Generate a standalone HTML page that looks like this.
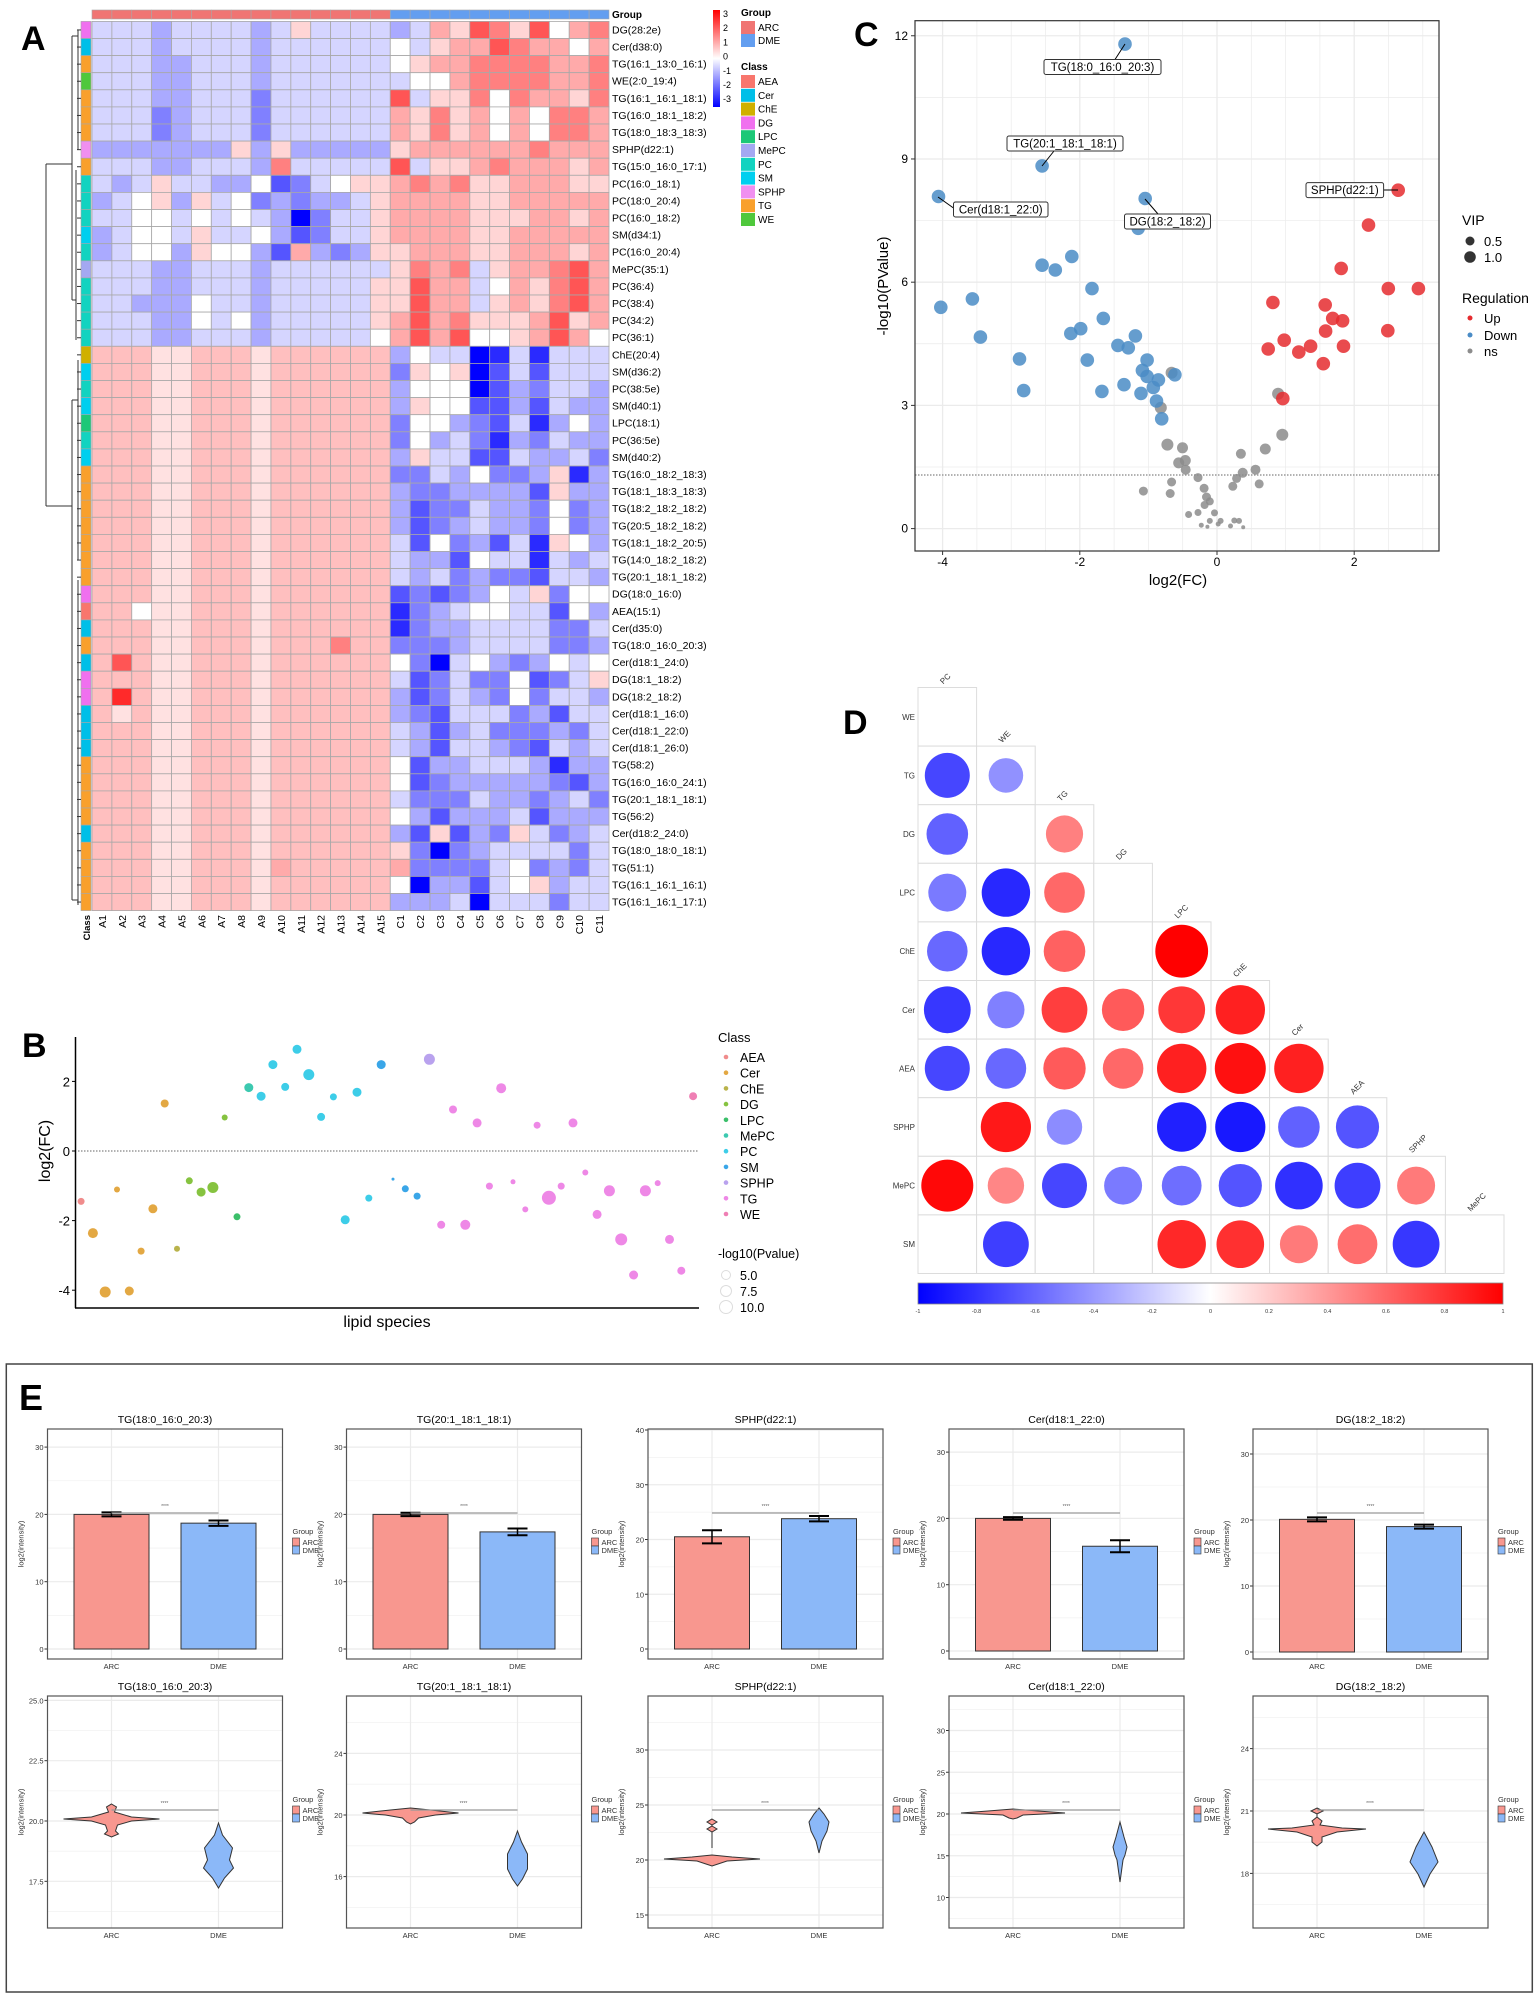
<!DOCTYPE html>
<html><head><meta charset="utf-8"><style>
html,body{margin:0;padding:0;background:#fff;}
svg{display:block;font-family:"Liberation Sans",sans-serif;}
</style></head><body>
<svg id="s" width="1535" height="2000" viewBox="0 0 1535 2000" xmlns="http://www.w3.org/2000/svg"></svg>
<script>
(function(){
var o=[];
function T(x,y,t,a){o.push('<text x="'+x+'" y="'+y+'" '+(a||'')+'>'+t+'</text>');}
function R(x,y,w,h,a){o.push('<rect x="'+x+'" y="'+y+'" width="'+w+'" height="'+h+'" '+a+'/>');}
function L(x1,y1,x2,y2,a){o.push('<line x1="'+x1+'" y1="'+y1+'" x2="'+x2+'" y2="'+y2+'" '+a+'/>');}
function C(x,y,r,a){o.push('<circle cx="'+x+'" cy="'+y+'" r="'+r+'" '+a+'/>');}
function rgb(v){var t=Math.min(1,Math.abs(v)/3);var k=Math.round(255*(1-t));return v<0?'rgb('+k+','+k+',255)':'rgb(255,'+k+','+k+')';}
// ===== Panel A =====
T(21,50,'A','style="font-size:34px;font-weight:bold;"');
var names=["DG(28:2e)","Cer(d38:0)","TG(16:1_13:0_16:1)","WE(2:0_19:4)","TG(16:1_16:1_18:1)","TG(16:0_18:1_18:2)","TG(18:0_18:3_18:3)","SPHP(d22:1)","TG(15:0_16:0_17:1)","PC(16:0_18:1)","PC(18:0_20:4)","PC(16:0_18:2)","SM(d34:1)","PC(16:0_20:4)","MePC(35:1)","PC(36:4)","PC(38:4)","PC(34:2)","PC(36:1)","ChE(20:4)","SM(d36:2)","PC(38:5e)","SM(d40:1)","LPC(18:1)","PC(36:5e)","SM(d40:2)","TG(16:0_18:2_18:3)","TG(18:1_18:3_18:3)","TG(18:2_18:2_18:2)","TG(20:5_18:2_18:2)","TG(18:1_18:2_20:5)","TG(14:0_18:2_18:2)","TG(20:1_18:1_18:2)","DG(18:0_16:0)","AEA(15:1)","Cer(d35:0)","TG(18:0_16:0_20:3)","Cer(d18:1_24:0)","DG(18:1_18:2)","DG(18:2_18:2)","Cer(d18:1_16:0)","Cer(d18:1_22:0)","Cer(d18:1_26:0)","TG(58:2)","TG(16:0_16:0_24:1)","TG(20:1_18:1_18:1)","TG(56:2)","Cer(d18:2_24:0)","TG(18:0_18:0_18:1)","TG(51:1)","TG(16:1_16:1_16:1)","TG(16:1_16:1_17:1)"];
var tp=[["UUUVUUUUVUaUUUU","VUbadcadobc"],["UUUVUUUUVUUUUUU","oUabbdcbbob"],["UUUVVUUUVUUUUUU","oabbccccbbc"],["UUUVVUUUVUUUUUU","Uoobccccbbc"],["UUUVVUUUWUUUUUU","dUaacocbbac"],["UUUWVUUUWUUUUUU","bacaboboccb"],["UUUWVUUUWUUUUUU","bacaboboccb"],["VVVVVVVaVaVVVVV","abbbbbbcbbb"],["UUUVVUUUVcUUUUU","dUaabcbbbab"],["UVUaUUVVoXWUoaa","bcbcaabbbaa"],["VUoaVaUoWVWVVUa","bbbbaabbbbb"],["UUooUoUoUVZWUUa","bbbbaaabbab"],["VUooUaUUoVXWUUa","bbbbaabbbbb"],["VUooVaooVXbVWVa","abbbaabbbab"],["UUUVVUUUVUUUUUU","acbcUabbcdb"],["UUUVVUUUVUUUUUa","adbbUobacdb"],["UUVVVoUUVUUUUUa","adbbUabacdb"],["UUUVVoUoVUUUUUa","bdbcaaabdab"],["UUUVVUUUVUUUUUo","bdbdooabdbo"]];
var bot=["VoUUZYUYUUU","WaoaZXUXUUU","VoooZXVWUUV","VaooXXVXUVV","WooVWXUYVoV","WoVUWYVWUVV","VaUUXXUVVUW","WWUVoWWVaYV","VWWVVVVXaVV","VXWWUVVWoWV","VXWVUVVWoWV","UXoWVXUYaoV","UVVXoUUYUVU","UVUWVWWXUUV","XWXWVoUaWoo","YWVUooUUXoV","YWVVUUUUWWU","WWWVUUUUWWV","oWZUoVWVoUo","UXWUWWoXWUa","VXWUVWoWUUV","VWXUUUWVXUU","UVXVUWWWVWU","UVXUUVWXUVU","oXVVUUUVYVV","oXWVVVVVWXV","UWWWUVVWVUW","oVXVVVUXVVV","VXaXVWaUWVU","aWZWVUUUUWU","bWWWWUoWVWU","oZVVXUoaVUU","VVVUZUUUWUU"];
var cmap={Z:-3,Y:-2.5,X:-2,W:-1.5,V:-1,U:-0.5,o:0,h:0.35,a:0.5,i:0.75,b:1,c:1.5,d:2,e:2.5,f:3};
var rows=[];
for(var i=0;i<19;i++)rows.push(tp[i][0]+tp[i][1]);
for(var i=0;i<33;i++){var b="iiihhiiihiiiiii".split('');var r=i+19;
 if(r==34)b[2]='o'; if(r==36)b[12]='c'; if(r==37)b[1]='d'; if(r==39)b[1]='e'; if(r==40)b[1]='h'; if(r==49)b[9]='b';
 rows.push(b.join('')+bot[i]);}
var hx=92,hy=21.4,cw=(609-92)/26,rh=17.1;
var ccol={AEA:"#f8766d",Cer:"#00bfe8",ChE:"#d0b000",DG:"#f070ef",LPC:"#1cc877",MePC:"#a4a8f2",PC:"#12d3c0",SM:"#00cfef",SPHP:"#f08ff0",TG:"#f9a02c",WE:"#4fc83c"};
for(var r=0;r<52;r++){
 for(var c=0;c<26;c++){var ch=rows[r].charAt(c);var vv=(ch in cmap)?cmap[ch]:0;R((hx+c*cw).toFixed(2),(hy+r*rh).toFixed(2),cw.toFixed(2),rh.toFixed(2),'fill="'+rgb(vv)+'" stroke="#a8a8a8" stroke-width="0.8"');}
 var cl=names[r].split('(')[0];
 R(81,(hy+r*rh).toFixed(2),10,rh.toFixed(2),'fill="'+ccol[cl]+'" stroke="#a8a8a8" stroke-width="0.6"');
 T(612,(hy+r*rh+12).toFixed(1),names[r],'style="font-size:10.5px"');
}
for(var c=0;c<26;c++){R((hx+c*cw).toFixed(2),10,cw.toFixed(2),9,'fill="'+(c<15?'#f07573':'#639ef0')+'" stroke="#a8a8a8" stroke-width="0.6"');
 var lb=c<15?'A'+(c+1):'C'+(c-14);
 T(0,0,lb,'transform="translate('+(hx+c*cw+cw/2+4).toFixed(1)+',915) rotate(-90)" text-anchor="end" style="font-size:10.5px"');}
T(0,0,'Class','transform="translate(90,915) rotate(-90)" text-anchor="end" style="font-size:9.5px;font-weight:bold"');
T(612,18,'Group','style="font-size:10px;font-weight:bold"');
var dg='stroke="#333" stroke-width="1" fill="none"';
L(46,164,46,506,dg);L(46,164,72,164,dg);L(46,506,72,506,dg);
L(72,36,72,300,dg);L(72,36,78,36,dg);L(72,300,76,300,dg);L(76,200,76,330,dg);
L(72,400,72,900,dg);L(72,400,78,400,dg);L(72,900,78,900,dg);
for(var r=0;r<52;r++){var y=hy+r*rh+rh/2;L(77,y,81,y,dg);}
L(78,30,78,150,dg);L(76,170,76,340,dg);L(78,360,78,560,dg);L(78,580,78,905,dg);
o.push('<defs><linearGradient id="hg" x1="0" y1="0" x2="0" y2="1"><stop offset="0" stop-color="#f00"/><stop offset="0.5" stop-color="#fff"/><stop offset="1" stop-color="#00f"/></linearGradient><linearGradient id="dgr" x1="0" y1="0" x2="1" y2="0"><stop offset="0" stop-color="#00f"/><stop offset="0.5" stop-color="#fff"/><stop offset="1" stop-color="#f00"/></linearGradient></defs>');
R(713,10,7,97,'fill="url(#hg)"');
var tk=['3','2','1','0','-1','-2','-3'];for(var i=0;i<7;i++)T(723,(17+i*14.2).toFixed(1),tk[i],'style="font-size:9px"');
T(741,16,'Group','style="font-size:10px;font-weight:bold"');
R(741,21,14,13,'fill="#f07573"');T(758,31,'ARC','style="font-size:10px"');
R(741,34,14,13,'fill="#639ef0"');T(758,44,'DME','style="font-size:10px"');
T(741,70,'Class','style="font-size:10px;font-weight:bold"');
var cls=["AEA","Cer","ChE","DG","LPC","MePC","PC","SM","SPHP","TG","WE"];
for(var i=0;i<11;i++){R(741,75+i*13.8,14,13,'fill="'+ccol[cls[i]]+'"');T(758,85+i*13.8,cls[i],'style="font-size:10px"');}
// ===== Panel B =====
T(22,1057,'B','style="font-size:34px;font-weight:bold"');
L(75.5,1037,75.5,1308,'stroke="#000" stroke-width="1.5"');L(75,1308,699,1308,'stroke="#000" stroke-width="1.5"');
var byf=function(v){return 1151-v*34.8;};
[2,0,-2,-4].forEach(function(v){T(70,byf(v)+5,v,'text-anchor="end" style="font-size:13px"');L(72,byf(v),75,byf(v),'stroke="#000"');});
L(78,1151,699,1151,'stroke="#999" stroke-width="1.5" stroke-dasharray="1.5,1.5"');
T(0,0,'log2(FC)','transform="translate(50,1151) rotate(-90)" text-anchor="middle" style="font-size:16px"');
T(387,1327,'lipid species','text-anchor="middle" style="font-size:16px"');
var bc={AEA:"#f08c8c",Cer:"#e3a843",ChE:"#b9b34b",DG:"#86c340",LPC:"#3bbf6a",MePC:"#3cc9b0",PC:"#3dcde8",SM:"#3aa6e8",SPHP:"#b9a2ee",TG:"#ee88e6",WE:"#ef7fb4"};
var bp=[["AEA",158,665,7],["Cer",228,629,6],["Cer",298,687,9],["Cer",181,760,10],["Cer",275,814,7],["Cer",205,937,11],["Cer",252,934,9],["Cer",321,371,8],["ChE",345,807,6],["DG",369,603,7],["DG",392,637,9],["DG",415,623,11],["DG",438,413,6],["LPC",462,711,7],["MePC",485,323,9],["PC",509,349,9],["PC",532,254,9],["PC",556,321,8],["PC",579,208,9],["PC",602,284,11],["PC",626,411,8],["PC",650,351,7],["PC",673,720,9],["PC",696,337,9],["PC",719,655,7],["SM",743,254,9],["SM",766,598,3],["SM",790,627,7],["SM",813,649,7],["SPHP",837,238,11],["TG",860,735,8],["TG",883,389,8],["TG",907,735,10],["TG",930,429,9],["TG",954,619,7],["TG",977,325,10],["TG",1000,606,5],["TG",1024,689,6],["TG",1047,436,7],["TG",1070,654,14],["TG",1094,619,7],["TG",1117,429,9],["TG",1141,578,6],["TG",1164,704,9],["TG",1188,633,11],["TG",1211,779,12],["TG",1235,886,9],["TG",1258,633,11],["TG",1282,610,6],["TG",1305,779,9],["TG",1328,873,8],["WE",1351,349,8]];
bp.forEach(function(p){C((p[1]*0.513).toFixed(1),(980+p[2]*0.333).toFixed(1),(p[3]*0.5).toFixed(1),'fill="'+bc[p[0]]+'"');});
T(718,1042,'Class','style="font-size:13px"');
for(var i=0;i<11;i++){C(726,1057+i*15.7,2.3,'fill="'+bc[cls[i]]+'"');T(740,1062+i*15.7,cls[i],'style="font-size:12.5px"');}
T(718,1258,'-log10(Pvalue)','style="font-size:12.5px"');
[['5.0',1275,4.5],['7.5',1291,5.5],['10.0',1307,6.5]].forEach(function(p){C(726,p[1],p[2],'fill="none" stroke="#ddd"');T(740,p[1]+5,p[0],'style="font-size:12.5px"');});
// ===== Panel C =====
T(854,46,'C','style="font-size:34px;font-weight:bold"');
var cx=function(v){return 1217+v*68.6;},cy=function(v){return 528.6-v*41.07;};
for(var v=-4.5;v<=3.5;v+=0.5){var x=cx(v);if(x<915||x>1439)continue;L(x,21,x,551,'stroke="#ebebeb" stroke-width="'+(v%2==0?1.3:0.7)+'"');}
for(var v=-1.5;v<=13.5;v+=1.5){var y=cy(v);if(y<21||y>551)continue;L(915,y,1439,y,'stroke="#ebebeb" stroke-width="'+(v%3==0?1.3:0.7)+'"');}
L(915,475,1439,475,'stroke="#999" stroke-width="1.5" stroke-dasharray="1.5,1.5"');
function pc(px,py,r,col){C((800+px*0.471).toFixed(1),(py*0.397).toFixed(1),r,'fill="'+col+'" fill-opacity="0.85"');}
var gray=[[789,939,6],[766,1027,6],[1015,992,6],[1024,1095,6],[780,1120,6],[812,1128,5.5],[936,1143,5],[988,1131,5.5],[818,1160,5.5],[804,1166,5.5],[819,1183,5],[967,1183,5],[940,1191,5],[845,1203,4.5],[927,1205,4.5],[789,1214,4.5],[975,1219,4.5],[919,1225,4.5],[858,1230,4.5],[729,1237,4.5],[786,1243,4.5],[863,1252,4.5],[870,1263,4],[859,1272,4],[825,1296,3.5],[880,1292,3.5],[845,1291,3.5],[922,1311,3],[932,1312,3],[870,1312,3],[893,1312,3],[852,1323,2.5],[888,1320,2.5],[914,1325,2.5],[941,1328,2],[865,1327,2]];
gray.forEach(function(p){pc(p[0],p[1],p[2],'#8c8c8c');});
var blue=[[690,111],[514,418],[294,495],[733,500],[718,575],[577,646],[514,668],[542,680],[620,727],[366,753],[299,774],[644,802],[383,849],[596,828],[575,840],[712,846],[675,870],[697,876],[466,904],[610,907],[737,907],[727,933],[737,948],[761,957],[750,976],[688,969],[475,984],[641,986],[724,991],[757,1010],[768,1055],[796,944]];
blue.forEach(function(p){pc(p[0],p[1],6.8,'#4a8cc6');});
var red=[[1270,479],[1207,567],[1149,676],[1249,727],[1313,727],[1004,762],[1115,768],[1131,802],[1152,808],[1116,834],[1248,833],[1028,857],[994,879],[1059,887],[1084,872],[1154,872],[1111,916],[1025,1004]];
red.forEach(function(p){pc(p[0],p[1],6.8,'#e52b2f');});
R(915,20.7,524,530.3,'fill="none" stroke="#333" stroke-width="1.2"');
function box(bx,byy,bw,t,l1x,l1y,l2x,l2y){L(l1x,l1y,l2x,l2y,'stroke="#000" stroke-width="1"');R(bx,byy,bw,15,'fill="#fff" stroke="#333" stroke-width="1" rx="2"');T(bx+bw/2,byy+11.5,t,'text-anchor="middle" style="font-size:11.5px"');}
box(1044,59.5,117,'TG(18:0_16:0_20:3)',1125,44,1115,59.5);
box(1007,136,116,'TG(20:1_18:1_18:1)',1042,166,1054,151);
box(953.5,202,94.5,'Cer(d18:1_22:0)',938,197,953.5,208);
box(1124.5,214,86,'DG(18:2_18:2)',1145,199,1158,214);
box(1306,182.6,77.6,'SPHP(d22:1)',1383.6,190,1398,190);
[-4,-2,0,2].forEach(function(v){L(cx(v),551,cx(v),555,'stroke="#333"');T(cx(v),566,v,'text-anchor="middle" style="font-size:12px"');});
[0,3,6,9,12].forEach(function(v){L(911,cy(v),915,cy(v),'stroke="#333"');T(908,cy(v)+4,v,'text-anchor="end" style="font-size:12px"');});
T(1178,585,'log2(FC)','text-anchor="middle" style="font-size:15px"');
T(0,0,'-log10(PValue)','transform="translate(888,286) rotate(-90)" text-anchor="middle" style="font-size:15px"');
T(1462,225,'VIP','style="font-size:14px"');
C(1470,241,4.5,'fill="#333"');T(1484,246,'0.5','style="font-size:13px"');
C(1470,257,5.8,'fill="#333"');T(1484,262,'1.0','style="font-size:13px"');
T(1462,303,'Regulation','style="font-size:14px"');
[['Up','#e52b2f',318],['Down','#4a8cc6',335],['ns','#8c8c8c',351]].forEach(function(p){C(1470,p[2],2.5,'fill="'+p[1]+'"');T(1484,p[2]+5,p[0],'style="font-size:13px"');});
// ===== Panel D =====
T(843,734,'D','style="font-size:34px;font-weight:bold"');
var dl=["PC","WE","TG","DG","LPC","ChE","Cer","AEA","SPHP","MePC"],rl=["WE","TG","DG","LPC","ChE","Cer","AEA","SPHP","MePC","SM"];
var dx=918,dy=687.5,ds=58.6;
var dv=[[],[[52,-1],[40,-1]],[[48,-1],null,[43,1]],[[44,-1],[56,-1],[47,1],null],[[47,-1],[56,-1],[48,1],null,[61,1]],[[54,-1],[43,-1],[53,1],[49,1],[54,1],[57,1]],[[52,-1],[47,-1],[49,1],[47,1],[57,1],[59,1],[57,1]],[null,[58,1],[41,-1],null,[57,-1],[58,-1],[48,-1],[50,-1]],[[60,1],[42,1],[52,-1],[44,-1],[46,-1],[50,-1],[55,-1],[53,-1],[44,1]],[null,[53,-1],null,null,[56,1],[55,1],[44,1],[46,1],[54,-1],null]];
for(var r=0;r<10;r++){
 for(var c=0;c<=r;c++){R(dx+c*ds,dy+r*ds,ds,ds,'fill="#fff" stroke="#dcdcdc" stroke-width="1"');}
 T(915,dy+r*ds+ds/2+3,rl[r],'text-anchor="end" style="font-size:8px;fill:#333"');
 T(0,0,dl[r],'transform="translate('+(dx+r*ds+ds/2-4)+','+(dy+r*ds-3)+') rotate(-45)" style="font-size:8px;fill:#333"');
}
dv.forEach(function(row,r){row.forEach(function(p,c){if(!p)return;var R0=p[0]*0.4327;var rv=Math.min(1,Math.pow(p[0]/61,2))*p[1];var t=Math.abs(rv);var k=Math.round(255*(1-t));var f=rv<0?'rgb('+k+','+k+',255)':'rgb(255,'+k+','+k+')';C((dx+c*ds+ds/2).toFixed(1),(dy+r*ds+ds/2).toFixed(1),R0.toFixed(1),'fill="'+f+'"');});});
R(918,1283,585,21,'fill="url(#dgr)" stroke="#888" stroke-width="0.8"');
var dt=['-1','-0.8','-0.6','-0.4','-0.2','0','0.2','0.4','0.6','0.8','1'];for(var i=0;i<11;i++)T(918+i*58.5,1313,dt[i],'text-anchor="middle" style="font-size:5.5px;fill:#333"');
// ===== Panel E =====
R(6.3,1364,1526,628,'fill="none" stroke="#444" stroke-width="1.5"');
T(19,1410,'E','style="font-size:36px;font-weight:bold"');
var PL=[47.5,346.5,648,949,1253],PW=235;
var titles=["TG(18:0_16:0_20:3)","TG(20:1_18:1_18:1)","SPHP(d22:1)","Cer(d18:1_22:0)","DG(18:2_18:2)"];
var bsc=[[1649,6.73,[0,10,20,30]],[1649,6.73,[0,10,20,30]],[1649,5.475,[0,10,20,30,40]],[1651,6.63,[0,10,20,30]],[1652,6.6,[0,10,20,30]]];
var bv=[[20,0.3,18.7,0.4],[20,0.25,17.4,0.5],[20.5,1.2,23.8,0.5],[20,0.2,15.8,0.9],[20.1,0.3,19.0,0.3]];
var vsc=[[20,1821,24.13,[[17.5,'17.5'],[20,'20.0'],[22.5,'22.5'],[25,'25.0']]],[20,1815,15.4,[[16,'16'],[20,'20'],[24,'24']]],[20,1860,11,[[15,'15'],[20,'20'],[25,'25'],[30,'30']]],[20,1814,8.35,[[10,'10'],[15,'15'],[20,'20'],[25,'25'],[30,'30']]],[21,1811,20.8,[[18,'18'],[21,'21'],[24,'24']]]];
function panelFrame(L0,t,b,title,ticks,yf){
 var ax=L0+64,dxx=L0+171;
 ticks.forEach(function(tv){var y=yf(tv[0]);L(L0,y,L0+PW,y,'stroke="#ebebeb" stroke-width="1.2"');});
 var st=yf(ticks[0][0])-yf(ticks[1][0]);
 for(var y=yf(ticks[0][0])+st/2;y>t;y-=st){if(y<b)L(L0,y,L0+PW,y,'stroke="#f2f2f2" stroke-width="0.8"');}
 L(ax,t,ax,b,'stroke="#ebebeb" stroke-width="1.2"');L(dxx,t,dxx,b,'stroke="#ebebeb" stroke-width="1.2"');
 ticks.forEach(function(tv){var y=yf(tv[0]);L(L0-3,y,L0,y,'stroke="#333"');T(L0-4,y+3,tv[1],'text-anchor="end" style="font-size:7.5px;fill:#333"');});
 T(L0+PW/2,t-6,title,'text-anchor="middle" style="font-size:10.5px"');
 T(ax,b+10,'ARC','text-anchor="middle" style="font-size:7.5px;fill:#333"');T(dxx,b+10,'DME','text-anchor="middle" style="font-size:7.5px;fill:#333"');
 T(0,0,'log2(intensity)','transform="translate('+(L0-24)+','+((t+b)/2)+') rotate(-90)" text-anchor="middle" style="font-size:7.5px;fill:#333"');
 var ly=(t+b)/2-10;T(L0+245,ly,'Group','style="font-size:7.5px;fill:#333"');
 R(L0+245,ly+4,7,8,'fill="#f8978f" stroke="#333" stroke-width="0.6"');T(L0+255,ly+11,'ARC','style="font-size:7.5px;fill:#333"');
 R(L0+245,ly+12,7,8,'fill="#8bb8f8" stroke="#333" stroke-width="0.6"');T(L0+255,ly+19,'DME','style="font-size:7.5px;fill:#333"');
}
for(var i=0;i<5;i++){
 var L0=PL[i],s=bsc[i];var yf=(function(s){return function(v){return s[0]-v*s[1];};})(s);
 panelFrame(L0,1429,1659,titles[i],s[2].map(function(v){return [v,''+v];}),yf);
 var ax=L0+64,dxx=L0+171,v=bv[i];
 R(ax-37.5,yf(v[0]),75,yf(0)-yf(v[0]),'fill="#f8978f" stroke="#333" stroke-width="1"');
 R(dxx-37.5,yf(v[2]),75,yf(0)-yf(v[2]),'fill="#8bb8f8" stroke="#333" stroke-width="1"');
 [[ax,v[0],v[1]],[dxx,v[2],v[3]]].forEach(function(e){var a=yf(e[1]+e[2]),bb=yf(e[1]-e[2]);L(e[0],a,e[0],bb,'stroke="#000" stroke-width="1.5"');L(e[0]-10,a,e[0]+10,a,'stroke="#000" stroke-width="2"');L(e[0]-10,bb,e[0]+10,bb,'stroke="#000" stroke-width="2"');});
 L(ax,1513,dxx,1513,'stroke="#999" stroke-width="1.2"');T((ax+dxx)/2,1508,'****','text-anchor="middle" style="font-size:5px;fill:#666"');
 R(L0,1429,PW,230,'fill="none" stroke="#555" stroke-width="1.2"');
 var vs=vsc[i];var vf=(function(vs){return function(v){return vs[1]-(v-vs[0])*vs[2];};})(vs);
 panelFrame(L0,1696,1928,titles[i],vs[3],vf);
}
function vio(cxv,cyv,prof,fill){var l=[],rr=[];prof.forEach(function(p){rr.push((cxv+p[1]).toFixed(1)+','+(cyv+p[0]).toFixed(1));l.unshift((cxv-p[1]).toFixed(1)+','+(cyv+p[0]).toFixed(1));});o.push('<polygon points="'+rr.concat(l).join(' ')+'" fill="'+fill+'" stroke="#333" stroke-width="1"/>');}
var ar='#f8978f',dm='#8bb8f8';
vio(111.5,1819,[[-15,0],[-12,5],[-7,3],[-2,20],[0,48],[2,20],[6,6],[12,4],[15,7],[18,0]],ar);
vio(218.5,1860,[[-37,0],[-25,4],[-12,14],[0,11],[8,15],[18,6],[28,0]],dm);
vio(410.5,1813,[[-5,0],[-3,20],[0,48],[2,25],[5,8],[9,4],[11,0]],ar);
vio(517.5,1864,[[-33,0],[-22,4],[-10,10],[5,10],[15,5],[22,0]],dm);
L(712,1848,712,1819,'stroke="#333" stroke-width="1"');
vio(712,1829,[[-3,0],[0,5],[3,0]],ar);vio(712,1822,[[-3,0],[0,5],[3,0]],ar);
vio(712,1859,[[-4,0],[-2,20],[0,48],[2,15],[5,6],[7,0]],ar);
vio(819,1826,[[-18,0],[-12,5],[-4,10],[5,8],[15,3],[27,0]],dm);
vio(1013,1813,[[-4,0],[-2,25],[0,52],[2,10],[5,4],[6,0]],ar);
vio(1120,1852,[[-30,0],[-15,4],[-5,7],[3,5],[8,3],[30,0]],dm);
L(1317,1809,1317,1827,'stroke="#333"');vio(1317,1811,[[-3,0],[0,6],[3,0]],ar);
vio(1317,1829,[[-12,0],[-8,5],[-4,3],[-1,25],[0,49],[3,20],[8,5],[13,5],[17,0]],ar);
vio(1424,1862,[[-30,0],[-15,8],[0,14],[12,6],[25,0]],dm);
for(var i=0;i<5;i++){var L0=PL[i];L(L0+64,1810,L0+171,1810,'stroke="#999" stroke-width="1.2"');T(L0+117,1805,'****','text-anchor="middle" style="font-size:5px;fill:#666"');R(L0,1696,PW,232,'fill="none" stroke="#555" stroke-width="1.2"');}
document.getElementById('s').innerHTML=o.join('');
})();
</script>
</body></html>
